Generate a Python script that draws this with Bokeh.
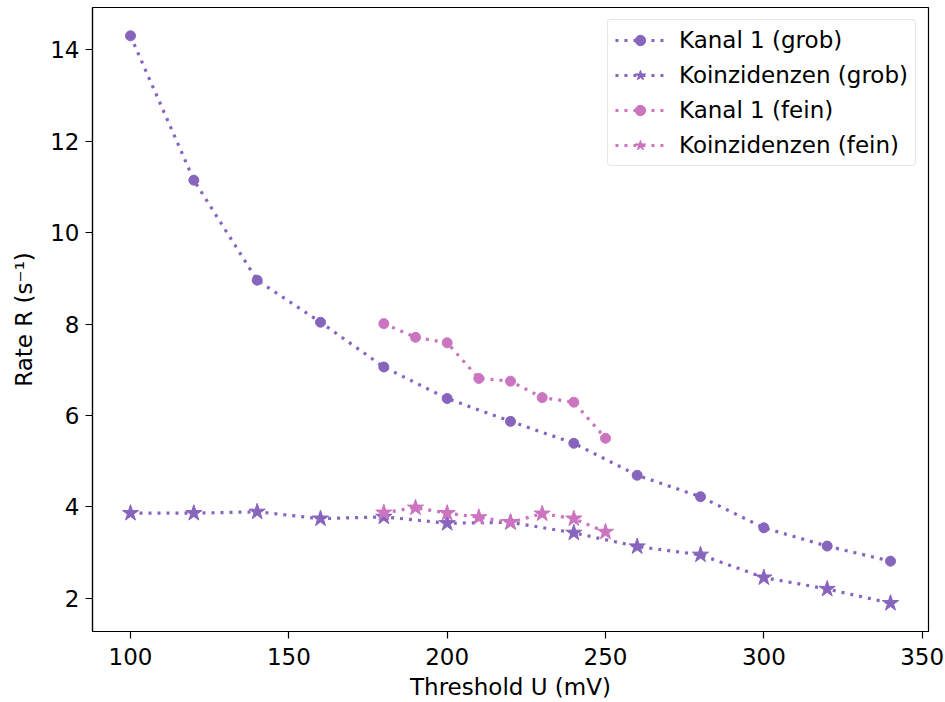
from bokeh.plotting import figure
from bokeh.models import Range1d, FixedTicker, Legend, LegendItem
from bokeh.embed import file_html
from bokeh.resources import INLINE

# Data
u_grob = [100, 120, 140, 160, 180, 200, 220, 240, 260, 280, 300, 320, 340]
kanal_grob = [14.31, 11.15, 8.96, 8.04, 7.06, 6.37, 5.87, 5.39, 4.69, 4.22, 3.54, 3.14, 2.81]
koinz_grob = [3.86, 3.86, 3.89, 3.74, 3.78, 3.64, 3.66, 3.43, 3.13, 2.95, 2.45, 2.20, 1.89]

u_fein = [180, 190, 200, 210, 220, 230, 240, 250]
kanal_fein = [8.01, 7.71, 7.59, 6.81, 6.75, 6.39, 6.29, 5.50]
koinz_fein = [3.87, 3.98, 3.86, 3.77, 3.66, 3.85, 3.74, 3.45]

x_ticks = [100, 150, 200, 250, 300, 350]
y_ticks = [2, 4, 6, 8, 10, 12, 14]

purple = "#8765bd"
pink = "#cb74bf"
FONT = "DejaVu Sans"

p = figure(width=945, height=702, output_backend="svg", toolbar_location=None,
           x_range=Range1d(88, 352), y_range=Range1d(1.27, 14.93),
           min_border_left=92, min_border_right=17, min_border_top=7, min_border_bottom=71)

p.xgrid.visible = False
p.ygrid.visible = False
p.outline_line_color = "black"
p.outline_line_width = 1.2

p.xaxis.ticker = FixedTicker(ticks=x_ticks)
p.yaxis.ticker = FixedTicker(ticks=y_ticks)
for ax in (p.xaxis[0], p.yaxis[0]):
    ax.axis_line_color = "black"
    ax.axis_line_width = 1.2
    ax.major_tick_line_color = "black"
    ax.major_tick_line_width = 1.2
    ax.major_tick_out = 7
    ax.major_tick_in = 0
    ax.minor_tick_line_color = None
    ax.major_label_text_font = FONT
    ax.major_label_text_font_size = "23px"
    ax.major_label_text_color = "black"
    ax.axis_label_text_font = FONT
    ax.axis_label_text_font_size = "23px"
    ax.axis_label_text_font_style = "normal"
    ax.axis_label_text_color = "black"
    ax.major_label_standoff = 6

p.xaxis.major_label_standoff = 9
p.xaxis.axis_label = "Threshold U (mV)"
p.yaxis.axis_label = "Rate R (s⁻¹)"
p.xaxis.axis_label_standoff = 6
p.yaxis.axis_label_standoff = 10

dash = "3 6"
lw = 3.2

l1 = p.line(u_grob, kanal_grob, line_color=purple, line_width=lw, line_dash=dash)
m1 = p.scatter(u_grob, kanal_grob, marker="circle", size=10, fill_color=purple, line_color=purple)
l2 = p.line(u_grob, koinz_grob, line_color=purple, line_width=lw, line_dash=dash)
m2 = p.scatter(u_grob, koinz_grob, marker="star", size=17, fill_color=purple, line_color=purple)
l3 = p.line(u_fein, kanal_fein, line_color=pink, line_width=lw, line_dash=dash)
m3 = p.scatter(u_fein, kanal_fein, marker="circle", size=10, fill_color=pink, line_color=pink)
l4 = p.line(u_fein, koinz_fein, line_color=pink, line_width=lw, line_dash=dash)
m4 = p.scatter(u_fein, koinz_fein, marker="star", size=17, fill_color=pink, line_color=pink)

legend = Legend(items=[
    LegendItem(label="Kanal 1 (grob)", renderers=[l1, m1]),
    LegendItem(label="Koinzidenzen (grob)", renderers=[l2, m2]),
    LegendItem(label="Kanal 1 (fein)", renderers=[l3, m3]),
    LegendItem(label="Koinzidenzen (fein)", renderers=[l4, m4]),
], location="top_right")
legend.label_text_font = FONT
legend.label_text_font_size = "23px"
legend.label_text_color = "black"
legend.glyph_width = 50
legend.glyph_height = 26
legend.label_height = 26
legend.label_standoff = 14
legend.spacing = 9
legend.padding = 7
legend.margin = 12
legend.border_line_color = "#cccccc"
legend.border_line_width = 1.5
legend.border_radius = 4
legend.background_fill_alpha = 0.9
p.add_layout(legend)

open("out.html", "w").write(file_html(p, INLINE))
